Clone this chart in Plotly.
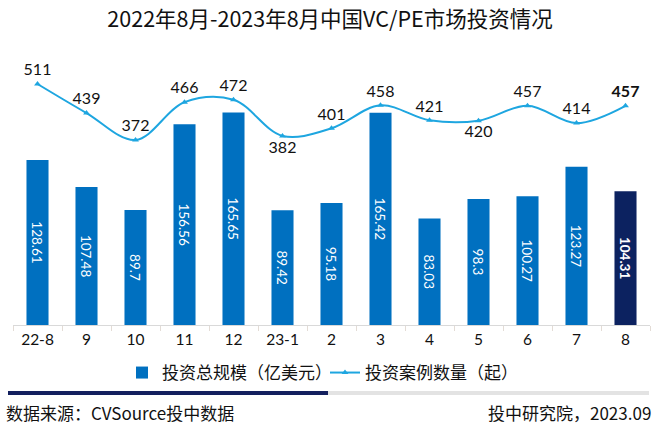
import plotly.graph_objects as go

categories = ["22-8", "9", "10", "11", "12", "23-1", "2", "3", "4", "5", "6", "7", "8"]
amount = [128.61, 107.48, 89.7, 156.56, 165.65, 89.42, 95.18, 165.42, 83.03, 98.3, 100.27, 123.27, 104.31]
cases = [511, 439, 372, 466, 472, 382, 401, 458, 421, 420, 457, 414, 457]
case_pos = ["top center", "top center", "top center", "top center", "top center", "bottom center",
            "top center", "top center", "top center", "bottom center", "top center", "top center", "top center"]

W, H = 660, 442
ML, MR, MT, MB = 13, 10, 65, 117
PW = W - ML - MR
PH = H - MT - MB

def px(x):
    return (x - ML) / PW

def py(y):
    return (H - MB - y) / PH

bar_colors = ["#0070c0"] * (len(categories) - 1) + ["#0c2260"]
bar_text = [str(v) for v in amount[:-1]] + ["<b>%s</b>" % amount[-1]]
line_text = [str(v) for v in cases[:-1]] + ["<b>%s</b>" % cases[-1]]

FONT = "Lato, Noto Sans CJK SC, sans-serif"
CJK = "Noto Sans CJK SC, sans-serif"

fig = go.Figure()
fig.add_trace(go.Bar(
    x=categories, y=amount, name="投资总规模（亿美元）",
    marker=dict(color=bar_colors, line=dict(width=0)),
    width=0.45,
    text=bar_text, textposition="inside", insidetextanchor="middle",
    textangle=90, textfont=dict(color="white", size=16, family=FONT),
    cliponaxis=False,
))
fig.add_trace(go.Scatter(
    x=categories, y=cases, name="投资案例数量（起）", yaxis="y2",
    mode="lines+markers+text",
    line=dict(color="#1ea6e0", width=2, shape="spline", smoothing=1.0),
    marker=dict(symbol="triangle-up", size=6, color="#1ea6e0"),
    text=line_text, textposition=case_pos,
    textfont=dict(color="#111111", size=16, family=FONT),
    cliponaxis=False,
))

fig.update_layout(
    width=W, height=H,
    margin=dict(l=ML, r=MR, t=MT, b=MB, autoexpand=False),
    paper_bgcolor="white", plot_bgcolor="white",
    showlegend=True,
    title=dict(text="2022年8月-2023年8月中国VC/PE市场投资情况", x=0.5, xanchor="center",
               y=1 - 19 / H, yanchor="middle", yref="container", automargin=False,
               font=dict(size=21.5, color="#111111", family=CJK)),
    xaxis=dict(type="category", range=[-0.5, len(categories) - 0.5], autorange=False,
               showgrid=False, showline=True, linecolor="#d9d9d9", linewidth=1,
               ticks="outside", tickson="boundaries", ticklen=5, tickcolor="#e3dcd6",
               automargin=False,
               tickfont=dict(size=15.5, color="#111111", family=FONT)),
    yaxis=dict(range=[0, PH / 1.283], visible=False, showgrid=False, automargin=False),
    yaxis2=dict(range=[511 - (H - MB - 84) / 0.403, 511 + (84 - MT) / 0.403], overlaying="y",
                side="right", visible=False, showgrid=False, automargin=False),
    legend=dict(orientation="h", x=px(122), xanchor="left", y=py(373), yanchor="middle",
                font=dict(size=17, color="#111111", family=CJK), itemwidth=30,
                entrywidth=158, entrywidthmode="pixels",
                bgcolor="rgba(0,0,0,0)"),
    bargap=0.55,
)

fig.add_shape(type="line", xref="paper", yref="paper", x0=px(8), x1=px(328), y0=py(393), y1=py(393),
              line=dict(color="#13205e", width=4))
fig.add_shape(type="line", xref="paper", yref="paper", x0=px(328), x1=px(649), y0=py(393), y1=py(393),
              line=dict(color="#e3e3e3", width=4))

fig.add_annotation(text="数据来源：CVSource投中数据", xref="paper", yref="paper", x=px(4), y=py(412),
                   xanchor="left", yanchor="middle", showarrow=False,
                   font=dict(size=17, color="#111111", family=CJK))
fig.add_annotation(text="投中研究院，2023.09", xref="paper", yref="paper", x=px(653), y=py(412),
                   xanchor="right", yanchor="middle", showarrow=False,
                   font=dict(size=17, color="#111111", family=CJK))

fig.write_html("out.html", config={"displayModeBar": False},
               post_script="document.body.style.margin='0';document.body.style.overflow='hidden';")
